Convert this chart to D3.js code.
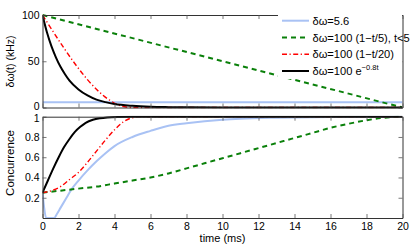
<!DOCTYPE html>
<html><head><meta charset="utf-8">
<script src="https://cdn.jsdelivr.net/npm/d3@7"></script>
<style>
body{margin:0;background:#fff}
svg{display:block}
text{font-family:"Liberation Sans",Arial,Helvetica,sans-serif;fill:#000}
</style>
</head><body>
<svg id="chart" width="415" height="244"></svg>
<script>
// ---- data ----
const xTickValues = [0,2,4,6,8,10,12,14,16,18,20];
const topYTicks = [0,50,100];
const botYTicks = [0.2,0.4,0.6,0.8,1];
const botYTickLabels = ["0.2","0.4","0.6","0.8","1"];

const legendLabels = ["δω=5.6","δω=100 (1−t/5), t<5","δω=100 (1−t/20)","δω=100 e"];

// top panel: δω(t) (kHz)
const blueTopT = [0,20];
const blueTopV = [5.6,5.6];
const greenTopT = [0,20];
const greenTopV = [100,0];
const redTopT = [0,4.9,20];
const redTopV = [100,0,0];
const blackTopT = [0,0.25,0.5,0.75,1,1.25,1.5,2,2.5,3,3.5,4,5,6,7,8,10,20];
const blackTopV = [100,81,66,54,44,36,29,19.5,13,8.5,5.8,3.8,1.8,0.8,0.4,0.2,0.05,0];

// bottom panel: concurrence
const blueBotT = [0,0.08,0.2,0.65,0.8,1,1.3,1.6,2,2.5,3,3.5,4,5,6,7,8,9,10,11,13,16,20];
const blueBotV = [0.25,0.12,0,0,0.04,0.1,0.19,0.28,0.37,0.47,0.56,0.64,0.71,0.8,0.86,0.91,0.935,0.955,0.97,0.98,0.99,0.997,1];
const greenBotT = [0,1,2,3,4,5,6,7,8,9,10,11,12,13,14,15,16,17,18,19,20];
const greenBotV = [0.25,0.27,0.29,0.31,0.34,0.37,0.40,0.44,0.49,0.54,0.59,0.64,0.69,0.74,0.79,0.84,0.89,0.93,0.965,0.99,1];
const redBotT = [0,0.5,1,1.5,2,2.5,3,3.5,4,4.5,5,5.5,20];
const redBotV = [0.25,0.27,0.31,0.38,0.45,0.55,0.66,0.77,0.87,0.95,0.99,1,1];
const blackBotT = [0,0.3,0.6,0.9,1.2,1.5,1.8,2.1,2.4,2.8,3.2,3.6,4.2,5,20];
const blackBotV = [0.25,0.37,0.49,0.6,0.7,0.78,0.85,0.9,0.94,0.97,0.985,0.993,0.998,1,1];

// ---- layout ----
const svg = d3.select("#chart");
const L = 42.5, R = 402.5;
const x = d3.scaleLinear().domain([0,20]).range([L,R]);
const yTop = d3.scaleLinear().domain([0,100]).range([107.5,15]);
const yBot = d3.scaleLinear().domain([0,1]).range([218,116.7]);

const styles = {
  blue:{stroke:"#a9c2f4",width:2,dash:null},
  green:{stroke:"#0a800a",width:2,dash:"5,4"},
  red:{stroke:"#ff0000",width:1.4,dash:"5,2.5,1.2,2.5"},
  black:{stroke:"#000000",width:2,dash:null}
};

function zip(ts,vs){return ts.map((t,i)=>({t:t,v:vs[i]}));}

function panel(y, yTicks, yLabels, showX, clipId, series, nudge){
  const top = y.range()[1], bot = y.range()[0];
  svg.append("clipPath").attr("id",clipId).append("rect")
    .attr("x",L).attr("y",top-1).attr("width",R-L).attr("height",bot-top+2);
  const g = svg.append("g");
  const line = d3.line().x(d=>x(d.t)).y(d=>y(d.v)).curve(d3.curveMonotoneX);
  series.forEach(s=>{
    const st = styles[s.style];
    g.append("path").attr("clip-path",`url(#${clipId})`)
      .attr("d",line(zip(s.t,s.v)))
      .attr("fill","none").attr("stroke",st.stroke).attr("stroke-width",st.width)
      .attr("stroke-dasharray",st.dash).attr("stroke-linejoin","round");
  });
  // axes (ticks inside, box)
  const axL = d3.axisLeft(y).tickValues(yTicks).tickSizeInner(-4).tickSizeOuter(0).tickPadding(3)
      .tickFormat((d,i)=>yLabels[i]);
  const gl = svg.append("g").attr("transform",`translate(${L},0)`).call(axL);
  const axR = d3.axisRight(y).tickValues(yTicks).tickSizeInner(-4).tickSizeOuter(0).tickFormat("");
  const gr = svg.append("g").attr("transform",`translate(${R},0)`).call(axR);
  const axT = d3.axisTop(x).tickValues(xTickValues).tickSizeInner(-4).tickSizeOuter(0).tickFormat("");
  const gt = svg.append("g").attr("transform",`translate(0,${top})`).call(axT);
  const axB = d3.axisBottom(x).tickValues(xTickValues).tickSizeInner(-4).tickSizeOuter(0).tickPadding(5);
  if(!showX) axB.tickFormat("");
  const gb = svg.append("g").attr("transform",`translate(0,${bot})`).call(axB);
  [gl,gr,gt,gb].forEach(a=>{
    a.select(".domain").attr("stroke","#333").attr("stroke-width",1);
    a.selectAll(".tick line").attr("stroke","#555").attr("stroke-width",0.8);
    a.selectAll("text").attr("font-size",10.5).attr("fill","#000")
      .attr("font-family","'Liberation Sans',Arial,sans-serif");
  });
  if(nudge) gl.selectAll(".tick text").filter(nudge.f).attr("y",nudge.dy);
}

panel(yTop, topYTicks, topYTicks.map(String), false, "clipTop", [
  {t:blueTopT,v:blueTopV,style:"blue"},
  {t:greenTopT,v:greenTopV,style:"green"},
  {t:redTopT,v:redTopV,style:"red"},
  {t:blackTopT,v:blackTopV,style:"black"}
], {f:d=>d===0, dy:-1.5});
panel(yBot, botYTicks, botYTickLabels, true, "clipBot", [
  {t:blueBotT,v:blueBotV,style:"blue"},
  {t:greenBotT,v:greenBotV,style:"green"},
  {t:redBotT,v:redBotV,style:"red"},
  {t:blackBotT,v:blackBotV,style:"black"}
], {f:d=>d===1, dy:1});

// axis titles
svg.append("text").attr("transform","translate(14,61.5) rotate(-90)")
  .attr("text-anchor","middle").attr("font-size",10.5).text("δω(t) (kHz)");
svg.append("text").attr("transform","translate(14,163) rotate(-90)")
  .attr("text-anchor","middle").attr("font-size",11.5).text("Concurrence");
svg.append("text").attr("x",x(10)).attr("y",241.5)
  .attr("text-anchor","middle").attr("font-size",11).text("time (ms)");

// legend
const lg = svg.append("g");
lg.append("rect").attr("x",278).attr("y",13).attr("width",124).attr("height",66).attr("fill","#fff");
const legStyles = ["blue","green","red","black"];
const rowY = [20.7,37.5,54.3,71];
legStyles.forEach((s,i)=>{
  const st = styles[s];
  lg.append("line").attr("x1",282).attr("x2",309).attr("y1",rowY[i]).attr("y2",rowY[i])
    .attr("stroke",st.stroke).attr("stroke-width",st.width).attr("stroke-dasharray",st.dash);
  const t = lg.append("text").attr("x",312.5).attr("y",rowY[i]+4).attr("font-size",11.1).text(legendLabels[i]);
  if(i===3){
    t.append("tspan").attr("font-size",7.5).attr("dy",-5).text("−0.8t");
  }
});
</script>
</body></html>
